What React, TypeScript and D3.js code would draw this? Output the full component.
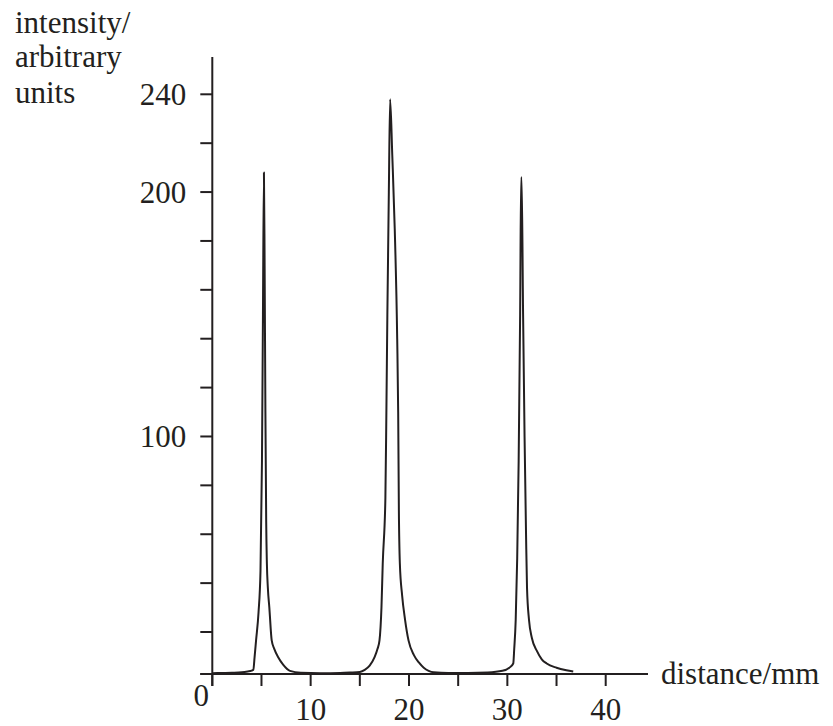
import React from "react";
import * as d3 from "d3";

// distance in mm, intensity in arbitrary units
const distance = [
  0, 1, 2, 3, 3.6, 4.0, 4.17, 4.3, 4.45, 4.7, 4.9, 5.05, 5.15, 5.25,
  5.32, 5.4, 5.48, 5.55, 5.65, 5.8, 6.04, 6.3, 6.7, 7.2, 7.9, 9, 11, 13, 14,
  15, 15.5, 16, 16.5, 16.8, 17.0, 17.2, 17.33, 17.6, 17.7, 17.8, 17.95, 18.08,
  18.3, 18.55, 18.8, 18.9, 18.97, 19.07, 19.3, 19.6, 19.95, 20.5, 21, 21.5, 22, 22.5,
  24, 26, 28, 29.5, 30.2, 30.6, 30.7, 30.85, 31.0, 31.15, 31.3, 31.4,
  31.45, 31.6, 31.75, 31.9, 32.0, 32.2, 32.5, 33, 33.5, 34, 35, 36, 36.7,
];
const intensity = [
  0.4, 0.5, 0.6, 0.8, 1.2, 1.6, 2, 8, 16, 28, 45, 90, 150, 208,
  170, 110, 65, 48, 38, 30, 16, 12, 8, 4.5, 1.5, 0.6, 0.4, 0.5, 0.7,
  1, 2, 4, 8, 12, 16, 30, 48, 75, 110, 150, 200, 238,
  215, 185, 140, 110, 70, 48, 35, 25, 16, 9, 5.5, 3, 1.5, 0.8,
  0.5, 0.5, 0.7, 1.5, 3, 5, 12, 25, 50, 90, 150, 206,
  206, 150, 100, 60, 38, 25, 17, 11, 7, 5, 3, 1.8, 1.2,
];

const xTicks = [0, 5, 10, 15, 20, 25, 30, 35, 40];
const xLabels = [10, 20, 30, 40];
const yTicks = [0, 20, 40, 60, 80, 100, 120, 140, 160, 180, 200, 220, 240];
const yLabels = [100, 200, 240];

const ink = "#231f20";
const font = "'Liberation Serif', 'Times New Roman', serif";
const fs = 31;

export default function App() {
  const x = d3.scaleLinear().domain([0, 40]).range([212.3, 605.7]);
  // the bottom interval on the original axis is shorter than the rest
  const y = d3.scaleLinear().domain([0, 20, 240]).range([674, 632, 94.3]);

  const pts = distance.map((d, i) => [d, intensity[i]] as [number, number]);
  const line = d3
    .line<[number, number]>()
    .x((d) => x(d[0]))
    .y((d) => y(d[1]))
    .curve(d3.curveMonotoneX);

  const x0 = x(0);
  const y0 = y(0);

  return (
    <svg width={833} height={726} style={{ display: "block", position: "absolute", left: 0, top: 0 }}>
      <rect width={833} height={726} fill="#fff" />
      {/* y axis */}
      <line x1={x0} x2={x0} y1={57} y2={y0 + 12} stroke={ink} strokeWidth={2} />
      {yTicks.map((t) => (
        <line key={"yt" + t} x1={x0 - 12} x2={x0} y1={y(t)} y2={y(t)} stroke={ink} strokeWidth={2} />
      ))}
      {yLabels.map((t) => (
        <text key={"yl" + t} x={x0 - 26} y={y(t) + 10.5} textAnchor="end" fontFamily={font} fontSize={fs} fill={ink}>
          {t}
        </text>
      ))}
      {/* x axis */}
      <line x1={x0 - 12} x2={648} y1={y0} y2={y0} stroke={ink} strokeWidth={2} />
      {xTicks.map((t) => (
        <line key={"xt" + t} x1={x(t)} x2={x(t)} y1={y0} y2={y0 + 12} stroke={ink} strokeWidth={2} />
      ))}
      {xLabels.map((t) => (
        <text key={"xl" + t} x={x(t)} y={y0 + 46} textAnchor="middle" fontFamily={font} fontSize={fs} fill={ink}>
          {t}
        </text>
      ))}
      <text x={x0 - 11} y={y0 + 32} textAnchor="middle" fontFamily={font} fontSize={fs} fill={ink}>
        0
      </text>
      {/* axis titles */}
      <text fontFamily={font} fontSize={fs} fill={ink}>
        <tspan x={15} y={33}>intensity/</tspan>
        <tspan x={15} y={67}>arbitrary</tspan>
        <tspan x={15} y={103}>units</tspan>
      </text>
      <text x={661} y={y0 + 10} fontFamily={font} fontSize={fs} fill={ink}>
        distance/mm
      </text>
      {/* trace */}
      <path d={line(pts) ?? ""} fill="none" stroke={ink} strokeWidth={2} strokeLinejoin="round" />
    </svg>
  );
}
